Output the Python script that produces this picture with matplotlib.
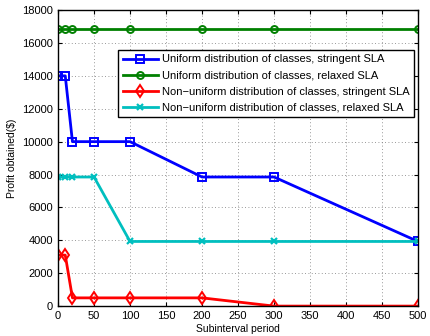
import numpy as np
import matplotlib.pyplot as plt

periods = [0, 10, 20, 50, 100, 200, 300, 500]
uni_stringent = [14000, 14000, 10000, 10000, 10000, 7850, 7850, 3930]
uni_relaxed = [16850, 16850, 16850, 16850, 16850, 16850, 16850, 16850]
nonuni_stringent = [3100, 3100, 500, 500, 500, 500, 0, 0]
nonuni_relaxed = [7850, 7850, 7850, 7850, 3930, 3930, 3930, 3930]

labels = ['Uniform distribution of classes, stringent SLA',
          'Uniform distribution of classes, relaxed SLA',
          'Non\u2212uniform distribution of classes, stringent SLA',
          'Non\u2212uniform distribution of classes, relaxed SLA']

plt.rcParams['font.family'] = ['Liberation Sans', 'DejaVu Sans']

fig = plt.figure(figsize=(4.3, 3.36), dpi=100)
ax = fig.add_axes([0.135, 0.089, 0.837, 0.881])

ax.plot(periods, uni_stringent, color='#0000ff', marker='s', mfc='none', ms=5.5, mew=1.4, lw=2, label=labels[0])
ax.plot(periods, uni_relaxed, color='#008000', marker='o', mfc='none', ms=5, mew=1.4, lw=2, label=labels[1])
ax.plot(periods, nonuni_stringent, color='#ff0000', marker='d', mfc='none', ms=6.5, mew=1.4, lw=2, label=labels[2])
ax.plot(periods, nonuni_relaxed, color='#00bfbf', marker='x', ms=4, mew=1.6, lw=2, label=labels[3])

ax.set_xlim(0, 500)
ax.set_ylim(0, 18000)
ax.set_xticks(np.arange(0, 501, 50))
ax.set_yticks(np.arange(0, 18001, 2000))
ax.tick_params(direction='in', top=True, right=True, labelsize=8, length=3)
ax.grid(True, linestyle=(0, (1, 3)), color='#777777', linewidth=0.6)
for s in ax.spines.values():
    s.set_linewidth(1.0)

ax.set_xlabel('Subinterval period', fontsize=7.5, labelpad=2)
ax.set_ylabel('Profit obtained($)', fontsize=7.5)

leg = ax.legend(loc='upper right', bbox_to_anchor=(0.988, 0.865), fontsize=8, fancybox=False,
                edgecolor='black', framealpha=1, handlelength=3.2, borderpad=0.4,
                labelspacing=0.55, handletextpad=0.3, borderaxespad=0)
leg.get_frame().set_linewidth(1.0)

fig.savefig('out.png', dpi=100)
